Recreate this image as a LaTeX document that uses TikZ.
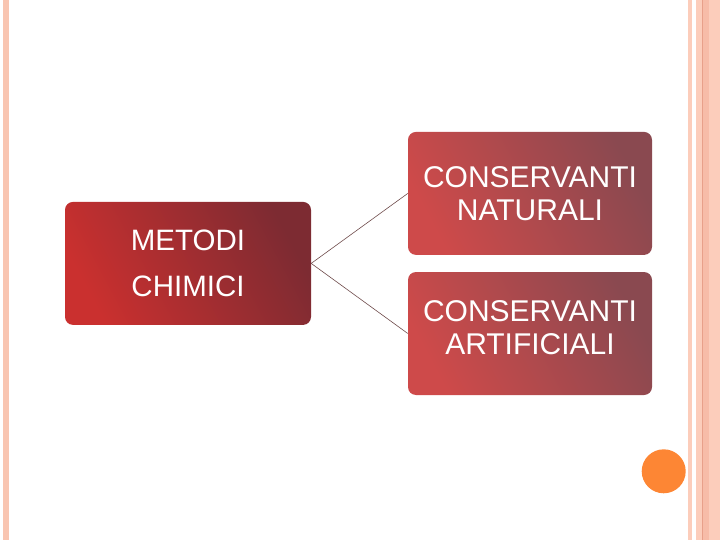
\documentclass[tikz,border=0pt]{standalone}
\usepackage{fontspec}
\setmainfont{Liberation Sans}
\usepackage{tikz}
\definecolor{stripe}{RGB}{249,197,177}
\definecolor{stripelight}{RGB}{252,205,187}
\definecolor{stripemid}{RGB}{247,188,168}
\definecolor{stripedark}{RGB}{232,160,138}
\definecolor{redbright}{RGB}{202,48,47}
\definecolor{reddark}{RGB}{125,43,50}
\definecolor{rosebright}{RGB}{206,74,74}
\definecolor{rosedark}{RGB}{138,73,80}
\definecolor{linkcol}{RGB}{110,75,75}
\definecolor{dot}{RGB}{253,134,52}
\tikzstyle{box} = [rounded corners=8pt, text=white, align=center, inner sep=0pt]
\tikzstyle{mainbox} = [box, top color=reddark, bottom color=redbright, shading angle=-62, minimum width=246pt, minimum height=123pt, font=\fontsize{29.5}{46}\selectfont]
\tikzstyle{subbox} = [box, top color=rosedark, bottom color=rosebright, shading angle=-62, minimum width=244pt, minimum height=123pt, font=\fontsize{30}{33}\selectfont]
\tikzstyle{link} = [draw=linkcol, line width=0.6pt]

\begin{document}
\begin{tikzpicture}[x=1pt, y=-1pt]
						\useasboundingbox (0, 0) rectangle (720, 540);
						% page border stripes
						\fill[stripe] (2.7, 0) rectangle (9, 540);
						\fill[stripelight] (687.7, 0) rectangle (692, 540);
						\fill[stripelight] (696, 0) rectangle (702, 540);
						\fill[stripemid] (702.7, 0) rectangle (709.3, 540);
						\fill[stripelight] (709.3, 0) rectangle (720, 540);
						\fill[stripedark] (702, 0) rectangle (702.7, 540);
						\fill[dot] (663.7, 471.3) circle (22);
						
						\node[mainbox](metodi) at (188, 263.4){METODI\\CHIMICI};
						\node[subbox](naturali) at (530, 193.4){CONSERVANTI\\NATURALI};
						\node[subbox, text depth=12pt](artificiali) at (530, 333.5){CONSERVANTI\\ARTIFICIALI};
						
						\draw[link](metodi.east) -- (naturali.west);
						\draw[link](metodi.east) -- (artificiali.west);
					\end{tikzpicture}
\end{document}
